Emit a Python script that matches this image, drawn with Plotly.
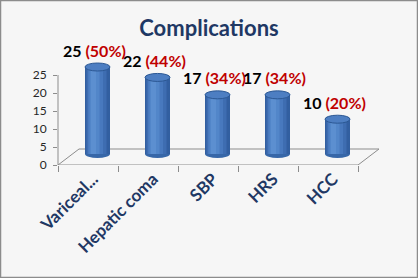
import plotly.graph_objects as go

categories = ["Variceal...", "Hepatic coma", "SBP", "HRS", "HCC"]
counts = [25, 22, 17, 17, 10]
percents = [50, 44, 34, 34, 20]
y_ticks = [0, 5, 10, 15, 20, 25]

W, H = 418, 278
ML, MT, MB = 58, 40, 113
n = len(categories)
cat_px = 60.0
extra_px = 30.0
PW = n * cat_px + extra_px
MR = W - ML - PW
PH = H - MT - MB

y_top = 25 * PH / 90.0
x_range = [-0.5, n - 0.5 + extra_px / cat_px]
shift_u = 9.5 / cat_px
x2_range = [x_range[0] - shift_u, x_range[1] - shift_u]
R2 = 25 * PH / 87.0
y2_min = -11 * R2 / PH
y2_range = [y2_min, y2_min + R2]
ppu_y2 = PH / R2

bar_w = 25 / cat_px
ell_h = 4 / ppu_y2

idx = list(range(n))
fig = go.Figure()
layers = [(1.0, 0.0, "#325FA0"), (0.8, -0.44, "#3E6DB1"), (0.6, -0.38, "#4879BE"),
          (0.4, -0.32, "#5286C9"), (0.2, -0.26, "#5C8FD0")]
for frac, off, col in layers:
    kw = {} if off == 0.0 else dict(offset=off * bar_w)
    fig.add_trace(go.Bar(x=idx, y=counts, xaxis="x2", yaxis="y2", width=bar_w * frac,
                         marker=dict(color=col, line=dict(width=0)), hoverinfo="skip", **kw))
fig.add_trace(go.Scatter(x=categories, y=[0] * n, mode="markers",
                         marker=dict(opacity=0), hoverinfo="skip", showlegend=False))

shapes = []
fx0 = x2_range[0]
fx1 = fx0 + n
dxu = 21 / cat_px
dyu = 16 / ppu_y2
floor_path = (f"M {fx0},{y2_min} L {fx1},{y2_min} L {fx1 + dxu},{y2_min + dyu} "
              f"L {fx0 + dxu},{y2_min + dyu} Z")
shapes.append(dict(type="path", path=floor_path, xref="x2", yref="y2",
                   line=dict(color="#8C8C8C", width=1), fillcolor="rgba(0,0,0,0)", layer="below"))
for i, v in zip(idx, counts):
    shapes.append(dict(type="circle", xref="x2", yref="y2", x0=i - bar_w / 2, x1=i + bar_w / 2,
                       y0=-ell_h, y1=ell_h, fillcolor="#3767A8", line=dict(width=0), layer="below"))
    shapes.append(dict(type="circle", xref="x2", yref="y2", x0=i - bar_w / 2, x1=i + bar_w / 2,
                       y0=v - ell_h, y1=v + ell_h, fillcolor="#4D7EC2",
                       line=dict(color="#2C5894", width=1), layer="above"))
shapes.append(dict(type="line", xref="paper", yref="y", x0=0, x1=0, y0=0, y1=25,
                   line=dict(color="#8C8C8C", width=1)))
shapes.append(dict(type="rect", xref="paper", yref="paper",
                   x0=-(ML - 0.5) / PW, x1=1 + (MR - 0.5) / PW,
                   y0=-(MB - 0.5) / PH, y1=1 + (MT - 0.5) / PH,
                   line=dict(color="#8C8C8C", width=1.5), fillcolor="rgba(0,0,0,0)", layer="below"))

annotations = []
for i, v, p in zip(idx, counts, percents):
    annotations.append(dict(x=i, y=v, xref="x2", yref="y2", showarrow=False,
                            text=f"<b>{v} <span style='color:#C00000'>({p}%)</span></b>",
                            font=dict(family="Lato", size=16, color="#000000"),
                            yanchor="middle", yshift=17, xshift=-3))

fig.update_layout(
    width=W, height=H,
    margin=dict(l=ML, r=MR, t=MT, b=MB),
    paper_bgcolor="#F6F6F6", plot_bgcolor="rgba(0,0,0,0)",
    showlegend=False, barmode="overlay",
    title=dict(text="<b>Complications</b>", x=0.5, xanchor="center", xref="container",
               y=1 - 28 / H, yanchor="middle", yref="container",
               font=dict(family="Lato", size=22, color="#1F3864")),
    xaxis=dict(type="category", range=x_range, tickson="boundaries",
               ticks="outside", ticklen=6, tickcolor="#8C8C8C", showline=False,
               showgrid=False, zeroline=False, tickangle=-45, ticklabelshift=5,
               tickfont=dict(family="Lato", size=17, color="#1F3864", weight="bold")),
    yaxis=dict(range=[0, y_top], tickvals=y_ticks, ticks="outside", ticklen=4,
               tickcolor="#8C8C8C", showgrid=False, zeroline=False, showline=False,
               ticklabelstandoff=4,
               tickfont=dict(family="Lato", size=12, color="#262626")),
    xaxis2=dict(overlaying="x", range=x2_range, visible=False),
    yaxis2=dict(overlaying="y", range=y2_range, visible=False),
    shapes=shapes, annotations=annotations,
)

fig.write_html("out.html")
